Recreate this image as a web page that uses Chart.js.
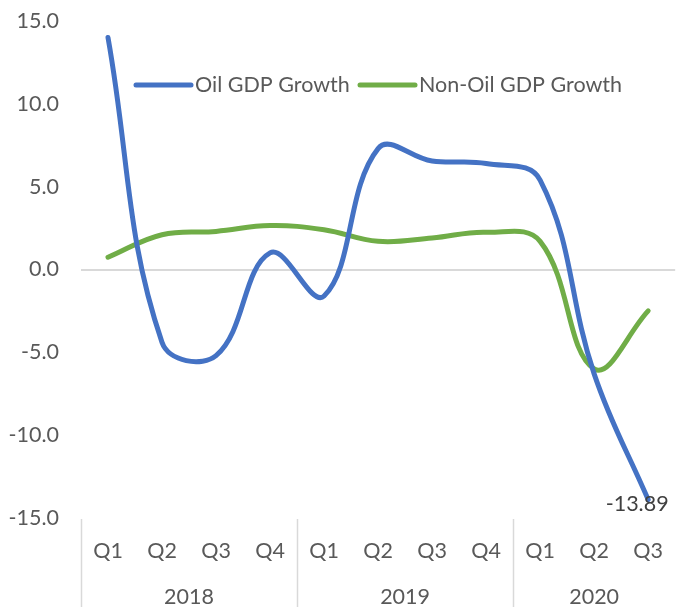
<!DOCTYPE html>
<html>
<head>
<meta charset="utf-8">
<script src="https://cdn.jsdelivr.net/npm/chart.js@4/dist/chart.umd.min.js"></script>
<style>
  html, body { margin: 0; padding: 0; background: #ffffff; overflow: hidden; }
  #wrap { position: relative; width: 683px; height: 607px; }
  canvas { display: block; }
</style>
</head>
<body>
<div id="wrap"><canvas id="c" width="683" height="607"></canvas></div>
<script>
// ---- data ----
const quarters = ['Q1','Q2','Q3','Q4','Q1','Q2','Q3','Q4','Q1','Q2','Q3'];
const years = ['2018','2019','2020'];
const yearSizes = [4, 4, 3];
const oilGrowth = [14.0, -4.4, -5.2, 1.0, -1.6, 7.3, 6.55, 6.4, 5.4, -6.3, -13.89];
const nonOilGrowth = [0.74, 2.1, 2.3, 2.65, 2.4, 1.7, 1.9, 2.25, 1.7, -6.0, -2.5];
const seriesNames = ['Oil GDP Growth', 'Non-Oil GDP Growth'];
const yTicks = [-15, -10, -5, 0, 5, 10, 15];

const FONT = 'Lato';
const FSIZE = 21.5;
const TXT = '#595959';

const extras = {
  id: 'extras',
  afterDraw(chart) {
    const ctx = chart.ctx;
    const x = chart.scales.x;
    const area = chart.chartArea;
    ctx.save();
    let start = 0;
    ctx.strokeStyle = '#d9d9d9';
    ctx.lineWidth = 1.5;
    ctx.font = FSIZE + 'px ' + FONT;
    ctx.fillStyle = TXT;
    ctx.textAlign = 'center';
    ctx.textBaseline = 'middle';
    const half = (x.getPixelForValue(1) - x.getPixelForValue(0)) / 2;
    years.forEach((yr, i) => {
      const left = x.getPixelForValue(start) - half;
      const right = x.getPixelForValue(start + yearSizes[i] - 1) + half;
      ctx.beginPath();
      ctx.moveTo(Math.round(left) + 0.5, area.bottom + 1);
      ctx.lineTo(Math.round(left) + 0.5, chart.height);
      ctx.stroke();
      ctx.fillText(yr, (left + right) / 2, area.bottom + 79);
      start += yearSizes[i];
    });
    const ly = 85;
    const items = [
      {name: seriesNames[0], color: chart.data.datasets[0].borderColor, x0: 136},
      {name: seriesNames[1], color: chart.data.datasets[1].borderColor, x0: 360}
    ];
    ctx.lineCap = 'round';
    ctx.textAlign = 'left';
    items.forEach(it => {
      ctx.strokeStyle = it.color;
      ctx.lineWidth = 5;
      ctx.beginPath();
      ctx.moveTo(it.x0, ly);
      ctx.lineTo(it.x0 + 55, ly);
      ctx.stroke();
      ctx.fillStyle = TXT;
      ctx.fillText(it.name, it.x0 + 59, ly);
    });
    const meta = chart.getDatasetMeta(0);
    const last = meta.data[meta.data.length - 1];
    ctx.fillStyle = '#404040';
    ctx.textAlign = 'center';
    ctx.fillText(oilGrowth[oilGrowth.length - 1].toFixed(2), last.x - 11, last.y + 4);
    ctx.restore();
  }
};

new Chart(document.getElementById('c'), {
  type: 'line',
  data: {
    labels: quarters,
    datasets: [
      { label: seriesNames[0], data: oilGrowth, borderColor: '#4472C4', borderWidth: 5,
        tension: 0.4, pointRadius: 0, borderCapStyle: 'round', borderJoinStyle: 'round', fill: false },
      { label: seriesNames[1], data: nonOilGrowth, borderColor: '#70AD47', borderWidth: 5,
        tension: 0.4, pointRadius: 0, borderCapStyle: 'round', borderJoinStyle: 'round', fill: false }
    ]
  },
  options: {
    responsive: false,
    animation: false,
    devicePixelRatio: 1,
    layout: { padding: { top: 21, left: 0, right: 0, bottom: 0 } },
    plugins: { legend: { display: false }, tooltip: { enabled: false } },
    scales: {
      x: {
        offset: true,
        grid: { display: false, drawTicks: false },
        border: { display: false },
        ticks: { color: TXT, font: { family: FONT, size: FSIZE }, padding: 20, maxRotation: 0, autoSkip: false },
        afterFit(s) { s.height = 89; }
      },
      y: {
        min: -15, max: 15,
        afterBuildTicks(s) { s.ticks = yTicks.map(v => ({ value: v })); },
        grid: {
          drawTicks: false,
          color: c => (c.tick && c.tick.value === 0) ? '#d9d9d9' : 'rgba(0,0,0,0)',
          lineWidth: 2
        },
        border: { display: false },
        ticks: { color: TXT, font: { family: FONT, size: FSIZE }, padding: 22,
                 callback: v => Number(v).toFixed(1) },
        afterFit(s) { s.width = 81; s.paddingTop = 0; s.paddingBottom = 0; }
      }
    }
  },
  plugins: [extras]
});
</script>
</body>
</html>
